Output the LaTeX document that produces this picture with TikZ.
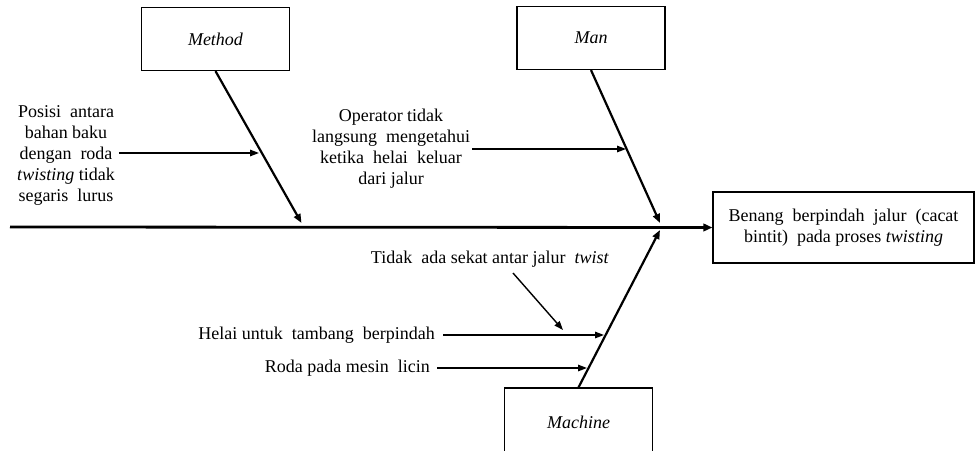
\documentclass[tikz,border=0pt]{standalone}
\usepackage{fontspec}
\setmainfont{Liberation Serif}
\usetikzlibrary{arrows.meta}

\begin{document}
\begin{tikzpicture}[x=1pt, y=-1pt,
    kotak/.style={draw, line width=1.2pt, minimum width=148pt, minimum height=63pt, font=\fontsize{18}{21}\selectfont\itshape},
    akibat/.style={draw, line width=1.2pt, minimum width=261pt, minimum height=71pt, align=center},
    tulang/.style={line width=2.2pt, -{Triangle[length=9pt, width=7pt]}},
    sebab/.style={line width=1.4pt, -{Triangle[length=9pt, width=6.5pt]}},
    every node/.style={font=\fontsize{18}{21}\selectfont, inner sep=2pt}]
  \clip (0,0) rectangle (975,450);
  % Kepala ikan (akibat)
  \node[akibat] (efek) at (843.5,227.5) {Benang \ berpindah \ jalur \ (cacat\\bintit) \ pada proses \textit{twisting}};
  \coordinate (ekor) at (10,227);
  \draw[line width=2.8pt, -{Triangle[length=9pt, width=7.5pt]}] (ekor) -- (efek.west);
  % Kategori
  \node[kotak] (method)  at (215.5,39)  {Method};
  \node[kotak] (man)     at (591,38)    {Man};
  \node[kotak, minimum height=110pt] (machine) at (578.5,443) {};
  \node[font=\fontsize{18}{21}\selectfont\itshape] (lblmachine) at (578.5,422) {Machine};
  % Ujung tulang pada duri
  \coordinate (tmethod)  at (301.5,223);
  \coordinate (tman)     at (660,223);
  \coordinate (tmachine) at (660,230);
  \draw[tulang] (method.south)  -- (tmethod);
  \draw[tulang] (man.south)     -- (tman);
  \draw[tulang] (machine.north) -- (tmachine);
  % Sebab -- Method
  \node[align=center] (posisi) at (66,155) {Posisi \ antara\\bahan baku\\dengan \ roda\\\textit{twisting} tidak\\segaris \ lurus};
  \coordinate (m1) at (259,153);
  \draw[sebab] ([xshift=2pt]posisi.east |- m1) -- (m1);
  % Sebab -- Man
  \node[align=center] (operator) at (391,149) {Operator tidak\\langsung \ mengetahui\\ketika \ helai \ keluar\\dari jalur};
  \coordinate (m2) at (626,149);
  \draw[sebab] (operator.east |- m2) -- (m2);
  % Sebab -- Machine
  \node (sekat) at (490,259) {Tidak \ ada sekat antar jalur \ \textit{twist}};
  \coordinate (s0) at (513,273);
  \coordinate (s1) at (563,330);
  \draw[sebab] (s0) -- (s1);
  \node[anchor=east] (helai) at (437,335) {Helai untuk \ tambang \ berpindah};
  \coordinate (m3) at (604,335);
  \draw[sebab] ([xshift=6pt]helai.east) -- (m3);
  \node[anchor=east] (roda) at (432,368) {Roda pada mesin \ licin};
  \coordinate (m4) at (587,368);
  \draw[sebab] ([xshift=5pt]roda.east) -- (m4);
\end{tikzpicture}
\end{document}
